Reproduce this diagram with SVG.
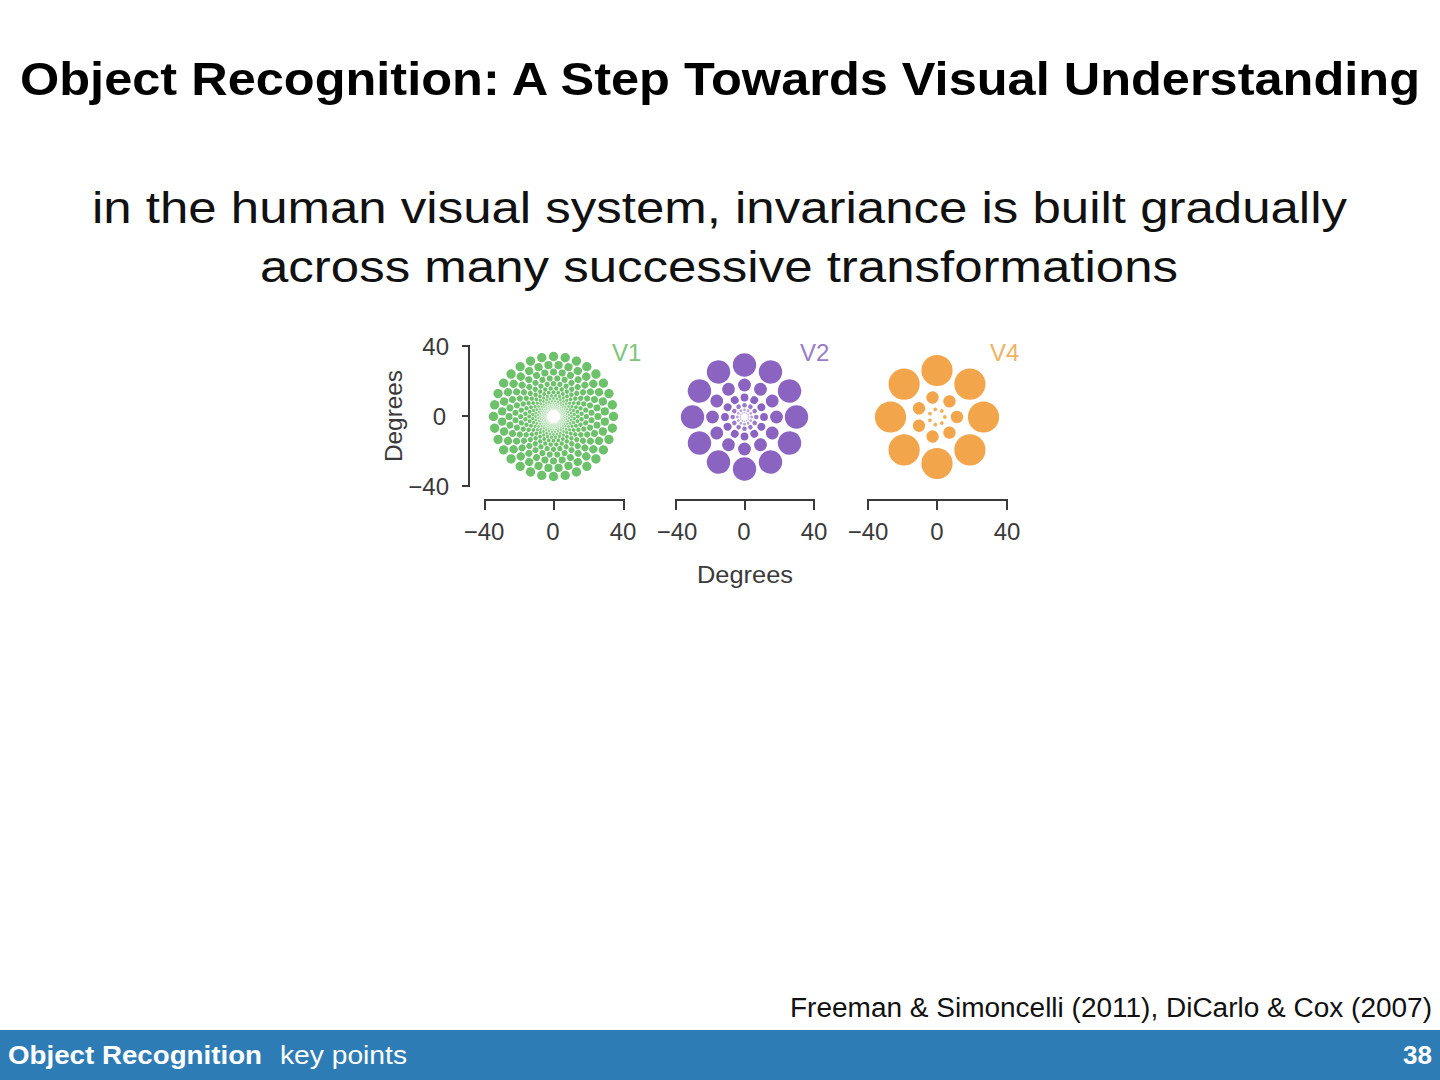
<svg xmlns="http://www.w3.org/2000/svg" xmlns:xlink="http://www.w3.org/1999/xlink" width="1440" height="1080" viewBox="0 0 1440 1080">
<style>
.title{font-family:"Liberation Sans",Arial,sans-serif;font-weight:bold;font-size:47px;fill:#000}
.sub{font-family:"Liberation Sans",Arial,sans-serif;font-size:44px;fill:#111}
.ax{font-family:"Liberation Sans",Arial,sans-serif;font-size:24px;fill:#3a3a3a}
.axl{stroke:#3a3a3a;stroke-width:2;fill:none}
.cite{font-family:"Liberation Sans",Arial,sans-serif;font-size:27px;fill:#111}
.foot{font-family:"Liberation Sans",Arial,sans-serif;font-size:26px;fill:#fff}
.g1{fill:#6cc16a}.g2{fill:#8b63c1}.g4{fill:#f2a54a}
</style>
<defs>
<g id="v1a" class="g1">
<circle cx="60" cy="0" r="4.7"/><circle cx="44.4" cy="0" r="3.5"/><circle cx="32.8" cy="0" r="2.6"/><circle cx="24.3" cy="0" r="1.95"/><circle cx="18" cy="0" r="1.45" opacity="0.85"/><circle cx="13.3" cy="0" r="1.05" opacity="0.65"/><circle cx="9.8" cy="0" r="0.8" opacity="0.5"/><circle cx="7.3" cy="0" r="0.6" opacity="0.4"/>
</g>
<g id="v1b" class="g1">
<circle cx="51.6" cy="0" r="4.1"/><circle cx="38.2" cy="0" r="3.0"/><circle cx="28.2" cy="0" r="2.25"/><circle cx="20.9" cy="0" r="1.7" opacity="0.9"/><circle cx="15.4" cy="0" r="1.25" opacity="0.75"/><circle cx="11.4" cy="0" r="0.9" opacity="0.55"/><circle cx="8.5" cy="0" r="0.7" opacity="0.45"/>
</g>
<g id="v2r" class="g2">
<circle cx="52" cy="0" r="11.7"/><circle cx="32" cy="0" r="6.4"/><circle cx="19.5" cy="0" r="3.9"/><circle cx="11.8" cy="0" r="2.3" opacity="0.85"/><circle cx="7.2" cy="0" r="1.4" opacity="0.6"/><circle cx="4.3" cy="0" r="0.9" opacity="0.4"/>
</g>
<g id="v4a" class="g4"><circle cx="46.5" cy="0" r="15.6"/></g>
<g id="v4b" class="g4"><circle cx="20" cy="0" r="6.2"/><circle cx="7.8" cy="0" r="1.9" opacity="0.9"/></g>
</defs>
<rect width="1440" height="1080" fill="#fff"/>
<g id="title"><text class="title" x="20" y="95" textLength="1400" lengthAdjust="spacingAndGlyphs">Object Recognition: A Step Towards Visual Understanding</text></g>
<g id="subtitle">
<text class="sub" x="92" y="223" textLength="1255" lengthAdjust="spacingAndGlyphs">in the human visual system, invariance is built gradually</text>
<text class="sub" x="260" y="282" textLength="918" lengthAdjust="spacingAndGlyphs">across many successive transformations</text>
</g>
<g id="figure">
<g id="v1" transform="translate(553.5,416.5)">
<use href="#v1a"/><use href="#v1a" transform="rotate(11.25)"/><use href="#v1a" transform="rotate(22.5)"/><use href="#v1a" transform="rotate(33.75)"/><use href="#v1a" transform="rotate(45)"/><use href="#v1a" transform="rotate(56.25)"/><use href="#v1a" transform="rotate(67.5)"/><use href="#v1a" transform="rotate(78.75)"/><use href="#v1a" transform="rotate(90)"/><use href="#v1a" transform="rotate(101.25)"/><use href="#v1a" transform="rotate(112.5)"/><use href="#v1a" transform="rotate(123.75)"/><use href="#v1a" transform="rotate(135)"/><use href="#v1a" transform="rotate(146.25)"/><use href="#v1a" transform="rotate(157.5)"/><use href="#v1a" transform="rotate(168.75)"/><use href="#v1a" transform="rotate(180)"/><use href="#v1a" transform="rotate(191.25)"/><use href="#v1a" transform="rotate(202.5)"/><use href="#v1a" transform="rotate(213.75)"/><use href="#v1a" transform="rotate(225)"/><use href="#v1a" transform="rotate(236.25)"/><use href="#v1a" transform="rotate(247.5)"/><use href="#v1a" transform="rotate(258.75)"/><use href="#v1a" transform="rotate(270)"/><use href="#v1a" transform="rotate(281.25)"/><use href="#v1a" transform="rotate(292.5)"/><use href="#v1a" transform="rotate(303.75)"/><use href="#v1a" transform="rotate(315)"/><use href="#v1a" transform="rotate(326.25)"/><use href="#v1a" transform="rotate(337.5)"/><use href="#v1a" transform="rotate(348.75)"/>
<use href="#v1b" transform="rotate(5.625)"/><use href="#v1b" transform="rotate(16.875)"/><use href="#v1b" transform="rotate(28.125)"/><use href="#v1b" transform="rotate(39.375)"/><use href="#v1b" transform="rotate(50.625)"/><use href="#v1b" transform="rotate(61.875)"/><use href="#v1b" transform="rotate(73.125)"/><use href="#v1b" transform="rotate(84.375)"/><use href="#v1b" transform="rotate(95.625)"/><use href="#v1b" transform="rotate(106.875)"/><use href="#v1b" transform="rotate(118.125)"/><use href="#v1b" transform="rotate(129.375)"/><use href="#v1b" transform="rotate(140.625)"/><use href="#v1b" transform="rotate(151.875)"/><use href="#v1b" transform="rotate(163.125)"/><use href="#v1b" transform="rotate(174.375)"/><use href="#v1b" transform="rotate(185.625)"/><use href="#v1b" transform="rotate(196.875)"/><use href="#v1b" transform="rotate(208.125)"/><use href="#v1b" transform="rotate(219.375)"/><use href="#v1b" transform="rotate(230.625)"/><use href="#v1b" transform="rotate(241.875)"/><use href="#v1b" transform="rotate(253.125)"/><use href="#v1b" transform="rotate(264.375)"/><use href="#v1b" transform="rotate(275.625)"/><use href="#v1b" transform="rotate(286.875)"/><use href="#v1b" transform="rotate(298.125)"/><use href="#v1b" transform="rotate(309.375)"/><use href="#v1b" transform="rotate(320.625)"/><use href="#v1b" transform="rotate(331.875)"/><use href="#v1b" transform="rotate(343.125)"/><use href="#v1b" transform="rotate(354.375)"/>
</g>
<g id="v2" transform="translate(744.5,417)">
<use href="#v2r"/><use href="#v2r" transform="rotate(30)"/><use href="#v2r" transform="rotate(60)"/><use href="#v2r" transform="rotate(90)"/><use href="#v2r" transform="rotate(120)"/><use href="#v2r" transform="rotate(150)"/><use href="#v2r" transform="rotate(180)"/><use href="#v2r" transform="rotate(210)"/><use href="#v2r" transform="rotate(240)"/><use href="#v2r" transform="rotate(270)"/><use href="#v2r" transform="rotate(300)"/><use href="#v2r" transform="rotate(330)"/>
</g>
<g id="v4" transform="translate(937,417)">
<use href="#v4a"/><use href="#v4a" transform="rotate(45)"/><use href="#v4a" transform="rotate(90)"/><use href="#v4a" transform="rotate(135)"/><use href="#v4a" transform="rotate(180)"/><use href="#v4a" transform="rotate(225)"/><use href="#v4a" transform="rotate(270)"/><use href="#v4a" transform="rotate(315)"/>
<use href="#v4b"/><use href="#v4b" transform="rotate(51.43)"/><use href="#v4b" transform="rotate(102.86)"/><use href="#v4b" transform="rotate(154.29)"/><use href="#v4b" transform="rotate(205.71)"/><use href="#v4b" transform="rotate(257.14)"/><use href="#v4b" transform="rotate(308.57)"/>
</g>
<text class="ax" x="612" y="361" style="fill:#7cc57a">V1</text>
<text class="ax" x="800" y="361" style="fill:#9a7bc8">V2</text>
<text class="ax" x="990" y="361" style="fill:#f0b263">V4</text>
<path class="axl" d="M462,346 H469 V486 H462 M462,416 H469"/>
<text class="ax" x="449" y="355" text-anchor="end">40</text>
<text class="ax" x="446" y="425" text-anchor="end">0</text>
<text class="ax" x="449" y="495" text-anchor="end">−40</text>
<text class="ax" transform="translate(402,416) rotate(-90)" text-anchor="middle" textLength="92" lengthAdjust="spacingAndGlyphs">Degrees</text>
<path class="axl" d="M485,510 V500 H624 V510 M554,500 V510"/>
<path class="axl" d="M676,510 V500 H814 V510 M745,500 V510"/>
<path class="axl" d="M868,510 V500 H1007 V510 M937,500 V510"/>
<g class="ax" text-anchor="middle">
<text x="484" y="540">−40</text><text x="553" y="540">0</text><text x="623" y="540">40</text>
<text x="677" y="540">−40</text><text x="744" y="540">0</text><text x="814" y="540">40</text>
<text x="868" y="540">−40</text><text x="937" y="540">0</text><text x="1007" y="540">40</text>
<text x="745" y="583" textLength="96" lengthAdjust="spacingAndGlyphs">Degrees</text>
</g>
</g>
<g id="citation"><text class="cite" x="790" y="1017" textLength="642" lengthAdjust="spacingAndGlyphs">Freeman &amp; Simoncelli (2011), DiCarlo &amp; Cox (2007)</text></g>
<g id="footer">
<rect x="0" y="1030" width="1440" height="50" fill="#2e7cb6"/>
<text class="foot" x="8" y="1064" font-weight="bold" textLength="254" lengthAdjust="spacingAndGlyphs">Object Recognition</text>
<text class="foot" x="280" y="1064" textLength="127" lengthAdjust="spacingAndGlyphs">key points</text>
<text class="foot" x="1432" y="1064" font-weight="bold" text-anchor="end">38</text>
</g>
</svg>
